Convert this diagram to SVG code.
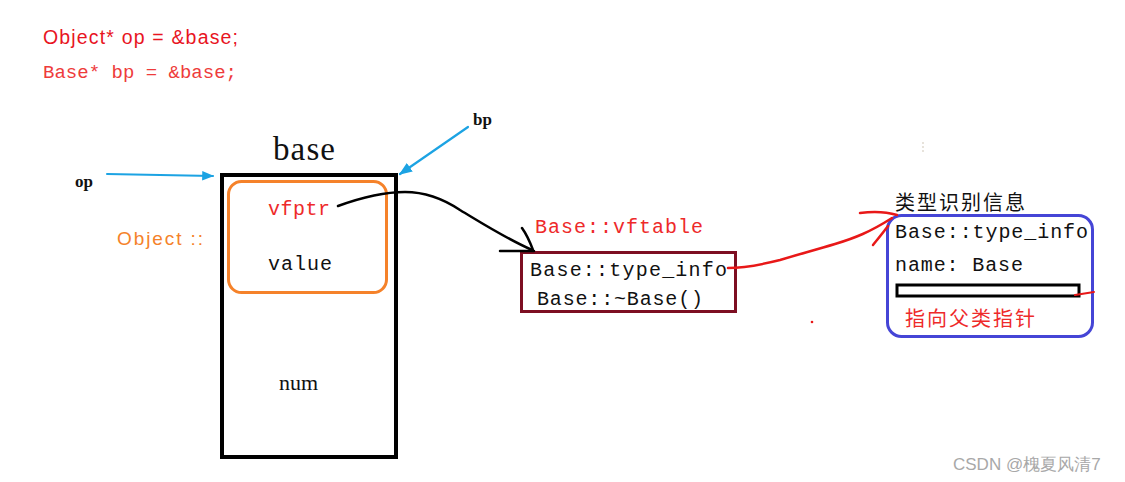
<svg xmlns="http://www.w3.org/2000/svg" width="1125" height="482" viewBox="0 0 1125 482">
<style>
.mono{font-family:"Liberation Mono","Noto Sans CJK SC",monospace;}
.serif{font-family:"Liberation Serif","DejaVu Serif",serif;}
.sans{font-family:"Liberation Sans","Noto Sans",sans-serif;}
.cjk{font-family:"Noto Sans CJK SC",sans-serif;}
.blk{fill:#111;}
.red{fill:#ee2a2a;}
.blue{stroke:#1ca3e3;fill:none;}
</style>
<defs>
<marker id="bluehead" viewBox="0 0 10 10" refX="9" refY="5" markerWidth="6" markerHeight="6" orient="auto" markerUnits="strokeWidth">
<path d="M0,1 L10,5 L0,9 Z" fill="#1ca3e3"/>
</marker>
</defs>
<rect width="1125" height="482" fill="#fff"/>

<g id="code">
<text x="43" y="44" class="sans" font-size="19.5" fill="#e8151f" textLength="195">Object* op = &amp;base;</text>
<text x="43" y="78" class="mono" font-size="19" fill="#ee3b3b" textLength="194">Base* bp = &amp;base;</text>
</g>

<g id="base">
<text x="273" y="160" class="serif blk" font-size="33" textLength="62">base</text>
<rect x="222" y="175" width="174" height="282" fill="none" stroke="#000" stroke-width="4"/>
<text x="279" y="390" class="serif blk" font-size="22" textLength="39">num</text>
</g>

<g id="object">
<rect x="228.5" y="181.5" width="158" height="111" rx="13" fill="none" stroke="#f5822a" stroke-width="3"/>
<text x="268" y="215" class="mono red" font-size="20" textLength="62">vfptr</text>
<text x="268" y="270" class="mono blk" font-size="20" textLength="64">value</text>
<text x="117" y="245" class="sans" font-size="19" fill="#f5822a" textLength="86">Object ::</text>
</g>

<g id="op">
<text x="75" y="187" class="serif blk" font-size="17" font-weight="bold">op</text>
</g>
<g id="bp">
<text x="473" y="125" class="serif blk" font-size="17" font-weight="bold">bp</text>
</g>

<g id="vftable">
<text x="535" y="233" class="mono red" font-size="20" textLength="168">Base::vftable</text>
<rect x="521.5" y="252.5" width="214" height="59" fill="none" stroke="#7d0f22" stroke-width="3"/>
<text x="530" y="276" class="mono blk" font-size="20" textLength="197">Base::type_info</text>
<text x="537" y="305" class="mono blk" font-size="20" textLength="166">Base::~Base()</text>
</g>

<g id="typeinfo">
<text x="895" y="210" class="cjk blk" font-size="20" textLength="130">类型识别信息</text>
<rect x="887.5" y="215.5" width="205" height="121" rx="14" fill="none" stroke="#4545d6" stroke-width="3"/>
<text x="895" y="238" class="mono blk" font-size="20" textLength="193">Base::type_info</text>
<text x="895" y="271" class="mono blk" font-size="20" textLength="128">name: Base</text>
<rect x="897" y="285" width="182" height="11" fill="none" stroke="#000" stroke-width="3"/>
<text x="905" y="326" class="cjk red" font-size="20" textLength="130">指向父类指针</text>
</g>

<g id="connectors" fill="none" stroke-linecap="round" stroke-linejoin="round">
<line x1="107" y1="174" x2="213" y2="176" class="blue" stroke-width="2" marker-end="url(#bluehead)"/>
<line x1="468" y1="127" x2="400" y2="174" class="blue" stroke-width="2.2" marker-end="url(#bluehead)"/>
<path d="M338,206 C360,198 385,192 405,192 C428,192 445,200 460,210 C485,225 505,238 532,250" stroke="#000" stroke-width="2.5"/>
<path d="M500,251 L534,251 M522,228 C527,235 530,242 533,250" stroke="#000" stroke-width="2.5"/>
<path d="M728,268 C745,268 760,265 780,260 C800,254 815,250 835,244 C855,238 870,232 892,218" stroke="#e81818" stroke-width="2.5"/>
<path d="M860,213 C875,211 887,212 897,215 M888,226 C882,234 877,240 873,245" stroke="#e81818" stroke-width="2.5"/>
<path d="M1075,295 L1094,292" stroke="#e81818" stroke-width="2"/>
</g>

<g id="marks">
<circle cx="812" cy="322" r="1.3" fill="#e81818"/>
<line x1="923" y1="142" x2="923" y2="153" stroke="#d8d0c4" stroke-width="1.2" stroke-dasharray="2,2"/>
<text x="953" y="470" class="sans" font-size="17" fill="#a8a8a8">CSDN @槐夏风清7</text>
</g>
</svg>
